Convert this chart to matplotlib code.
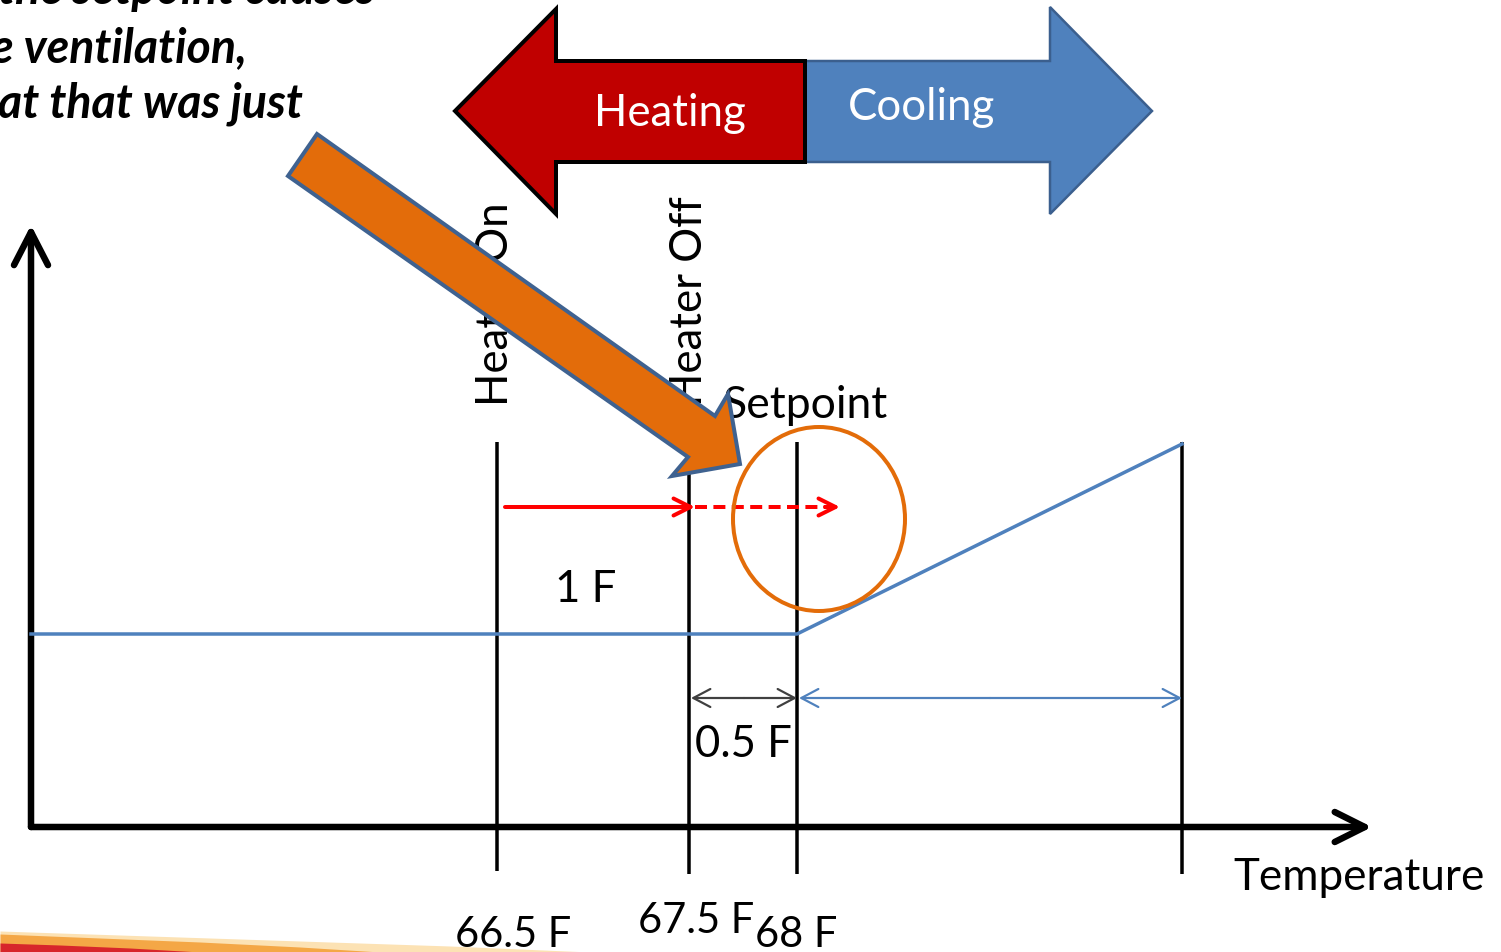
import matplotlib
matplotlib.use("Agg")
import matplotlib.pyplot as plt
from matplotlib.patches import Polygon, Ellipse, FancyArrowPatch

plt.rcParams['font.family'] = ['Lato', 'DejaVu Sans']

# The diagram is laid out in slide units (y grows downward).
W, H = 1501, 953

# Temperature marks (vertical lines) and their labels.
mark_x = [497, 689, 797, 1182]
mark_top = [443, 443, 443, 443]
mark_bottom = [872, 875, 875, 875]
temp_labels = ["66.5 F", "67.5 F", "68 F"]
temp_label_x = [455, 638, 755]
temp_label_y = [947, 933, 947]

# Ventilation curve: flat below setpoint, then ramps up.
vent_x = [31, 797, 1182]
vent_y = [635, 635, 445]

# Axes of the diagram.
axis_origin = (31, 828)
axis_y_end = (31, 226)
axis_x_end = (1372, 828)

# Heating / cooling banner arrows.
heat_poly = [(455, 112), (556, 10), (556, 62), (805, 62), (805, 163), (556, 163), (556, 215)]
cool_poly = [(805, 62), (1050, 62), (1050, 8), (1152, 112), (1050, 215), (1050, 163), (805, 163)]

# Big orange pointer arrow.
pointer_poly = [(317, 135), (715, 417), (728, 395), (740, 465), (672, 477), (688, 458), (288, 177)]

# Text on top-left (cropped slide text).
note_lines = ["the setpoint causes", "e ventilation,", "at that was just"]
note_right = [375, 247, 303]
note_base = [4, 62, 118]

# Decorative swoosh in the lower-left corner.
pale_x = [0, 150, 300, 450, 590]
pale_top = [932, 937, 942, 947, 953]
orange_x = [0, 100, 200, 300, 380]
orange_top = [935, 939, 943, 948, 953]
red_x = [0, 60, 130, 200]
red_top = [944, 946, 949, 953]

fig = plt.figure(figsize=(W / 100, H / 100), dpi=100)
ax = fig.add_axes([0, 0, 1, 1])
ax.set_xlim(0, W)
ax.set_ylim(H, 0)
ax.axis('off')

PT = 72 / 100  # pixel -> point
FS = 31.5


def arrow(p0, p1, color, lw, hl, hw, z=3):
    a = FancyArrowPatch(p0, p1, arrowstyle=f'->,head_length={hl * PT},head_width={hw * PT}',
                        mutation_scale=1, lw=lw * PT, color=color, shrinkA=0, shrinkB=0,
                        capstyle='round', joinstyle='round', zorder=z)
    ax.add_patch(a)


# swoosh
ax.fill_between(pale_x, pale_top, H, color='#FCE2B4', lw=0, zorder=1)
ax.fill_between(orange_x, orange_top, H, color='#F4A746', lw=0, zorder=1)
ax.fill_between(red_x, red_top, H, color='#D7262B', lw=0, zorder=1)

# axes
arrow(axis_origin, axis_y_end, 'black', 6.5, 33, 17)
arrow(axis_origin, axis_x_end, 'black', 6.5, 30, 15)

# vertical marks
ax.vlines(mark_x, mark_top, mark_bottom, color='black', lw=3.5 * PT, zorder=3)

# ventilation curve
ax.plot(vent_x, vent_y, color='#4F81BD', lw=3.5 * PT, zorder=3)

# red heating progression arrow
arrow((505, 508), (695, 508), '#FF0000', 4, 17, 8.5, z=4)
ax.plot([695, 836], [508, 508], color='#FF0000', lw=4 * PT, ls=(0, (3, 1.6)), zorder=4)
arrow((825, 508), (840, 508), '#FF0000', 4, 17, 8.5, z=4)

# dimension arrows
arrow((744, 699), (691, 699), '#404040', 2.2, 17, 9)
arrow((744, 699), (797, 699), '#404040', 2.2, 17, 9)
arrow((990, 699), (799, 699), '#4F81BD', 2.2, 17, 9)
arrow((990, 699), (1182, 699), '#4F81BD', 2.2, 17, 9)

# orange circle
ax.add_patch(Ellipse((819, 520), 172, 184, fill=False, edgecolor='#E36C09', lw=4 * PT, zorder=5))

# banner arrows
ax.add_patch(Polygon(cool_poly, closed=True, facecolor='#4F81BD', edgecolor='#3B5F8E', lw=2.5 * PT, zorder=5))
ax.add_patch(Polygon(heat_poly, closed=True, facecolor='#C00000', edgecolor='black', lw=4 * PT, zorder=6,
                     joinstyle='miter'))
ax.text(670, 113, "Heating", color='white', fontsize=FS, ha='center', va='center', zorder=7)
ax.text(922, 108, "Cooling", color='white', fontsize=FS, ha='center', va='center', zorder=7)

# labels
ax.text(495, 406, "Heater On", rotation=90, fontsize=FS, ha='center', va='bottom', zorder=4)
ax.text(690, 406, "Heater Off", rotation=90, fontsize=FS, ha='center', va='bottom', zorder=4)
ax.text(722, 418, "Setpoint", fontsize=32, ha='left', va='baseline', zorder=4)
ax.text(555, 602, "1 F", fontsize=FS, ha='left', va='baseline', zorder=4)
ax.text(695, 757, "0.5 F", fontsize=FS, ha='left', va='baseline', zorder=4)
ax.text(1233, 890, "Temperature", fontsize=31.7, ha='left', va='baseline', zorder=4)
for lab, lx, ly in zip(temp_labels, temp_label_x, temp_label_y):
    ax.text(lx, ly, lab, fontsize=30, ha='left', va='baseline', zorder=4)

for line, rx, by in zip(note_lines, note_right, note_base):
    ax.text(rx, by, line, fontsize=33.5, fontweight='bold', fontstyle='italic',
            ha='right', va='baseline', zorder=8)

# orange pointer on top of everything
ax.add_patch(Polygon(pointer_poly, closed=True, facecolor='#E36C0A', edgecolor='#3F6290',
                     lw=4 * PT, zorder=9, joinstyle='miter'))

fig.savefig('out.png', dpi=100)
